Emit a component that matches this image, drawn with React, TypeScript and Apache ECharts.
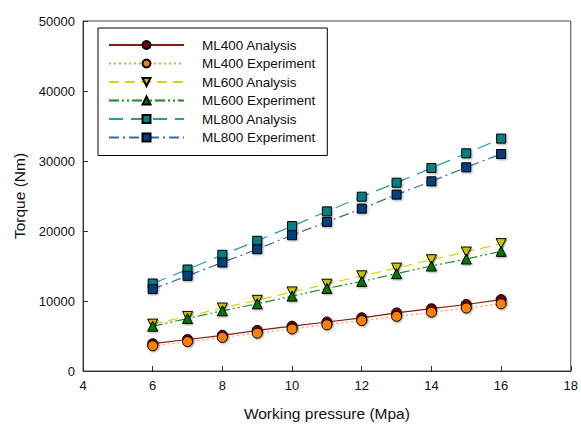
import React, { useEffect, useRef } from "react";
import * as echarts from "echarts";

const pressure = [6, 7, 8, 9, 10, 11, 12, 13, 14, 15, 16];
const ml400Analysis = [3900, 4500, 5100, 5800, 6400, 7000, 7600, 8300, 8900, 9500, 10200];
const ml400Experiment = [3600, 4200, 4800, 5400, 6000, 6600, 7200, 7800, 8400, 9000, 9600];
const ml600Analysis = [6700, 7800, 9000, 10100, 11300, 12400, 13600, 14700, 15900, 17000, 18200];
const ml600Experiment = [6400, 7500, 8600, 9600, 10700, 11800, 12800, 13900, 15000, 16000, 17100];
const ml800Analysis = [12500, 14500, 16600, 18600, 20700, 22800, 24900, 26900, 29000, 31100, 33200];
const ml800Experiment = [11700, 13600, 15500, 17400, 19400, 21300, 23200, 25200, 27100, 29100, 31000];

const seriesNames = [
  "ML400 Analysis",
  "ML400 Experiment",
  "ML600 Analysis",
  "ML600 Experiment",
  "ML800 Analysis",
  "ML800 Experiment",
];

export default function App() {
  const ref = useRef<HTMLDivElement>(null);
  useEffect(() => {
    if (!ref.current) return;
    const chart = echarts.init(ref.current, undefined, { renderer: "svg" });
    const font = "Liberation Sans, Arial, sans-serif";
    const mk = (
      name: string,
      data: number[],
      lineColor: string,
      fill: string,
      symbol: string,
      dash: any,
      rotate = 0
    ) => ({
      name,
      type: "line",
      data: pressure.map((x, i) => [x, data[i]]),
      symbol,
      symbolSize: symbol === "rect" ? 9 : 10,
      symbolRotate: rotate,
      lineStyle: { color: lineColor, width: 1.2, type: dash },
      itemStyle: {
        color: fill,
        borderColor: "#000",
        borderWidth: 1,
        shadowColor: "rgba(0,0,0,0.35)",
        shadowBlur: 2,
        shadowOffsetX: 1,
        shadowOffsetY: 1,
      },
      z: 3,
    });
    chart.setOption({
      animation: false,
      textStyle: { fontFamily: font },
      grid: {
        left: 83,
        right: 8,
        top: 21,
        bottom: 54,
        show: true,
        borderColor: "#444",
        borderWidth: 1,
      },
      legend: {
        orient: "vertical",
        left: 98,
        top: 28,
        data: seriesNames,
        itemWidth: 75,
        itemHeight: 10,
        itemGap: 4.5,
        padding: [10, 12, 11, 10],
        borderColor: "#000",
        borderWidth: 1,
        backgroundColor: "#fff",
        textStyle: { fontSize: 13.5, color: "#111", fontFamily: font, padding: [0, 0, 0, 13] },
      },
      xAxis: {
        type: "value",
        min: 4,
        max: 18,
        interval: 2,
        name: "Working pressure (Mpa)",
        nameLocation: "middle",
        nameGap: 34,
        nameTextStyle: { fontSize: 15.5, color: "#111", fontFamily: font },
        axisLine: { lineStyle: { color: "#333" } },
        axisTick: { inside: true, length: 5, lineStyle: { color: "#333" } },
        axisLabel: { fontSize: 13, color: "#111", margin: 8 },
        splitLine: { show: false },
      },
      yAxis: {
        type: "value",
        min: 0,
        max: 50000,
        interval: 10000,
        name: "Torque (Nm)",
        nameLocation: "middle",
        nameGap: 51,
        nameTextStyle: { fontSize: 15.5, color: "#111", fontFamily: font },
        axisLine: { show: true, lineStyle: { color: "#333" } },
        axisTick: { show: true, inside: true, length: 5, lineStyle: { color: "#333" } },
        axisLabel: { fontSize: 13, color: "#111", margin: 8, formatter: (v: number) => String(v) },
        splitLine: { show: false },
      },
      series: [
        mk(seriesNames[0], ml400Analysis, "#8b1a1a", "#7a0000", "circle", "solid"),
        mk(seriesNames[1], ml400Experiment, "#ff9a40", "#ff8000", "circle", [2, 3]),
        mk(seriesNames[2], ml600Analysis, "#d4d400", "#c8c000", "triangle", [10, 6], 180),
        mk(seriesNames[3], ml600Experiment, "#1a8a1a", "#007800", "triangle", [10, 3, 2, 3, 2, 3]),
        mk(seriesNames[4], ml800Analysis, "#20a0a0", "#008080", "rect", [14, 8]),
        mk(seriesNames[5], ml800Experiment, "#3a6aaa", "#003f80", "rect", [10, 4, 2, 4]),
      ],
    });
    return () => chart.dispose();
  }, []);
  return <div ref={ref} style={{ width: 581, height: 426, position: "absolute", left: 0, top: 0 }} />;
}
